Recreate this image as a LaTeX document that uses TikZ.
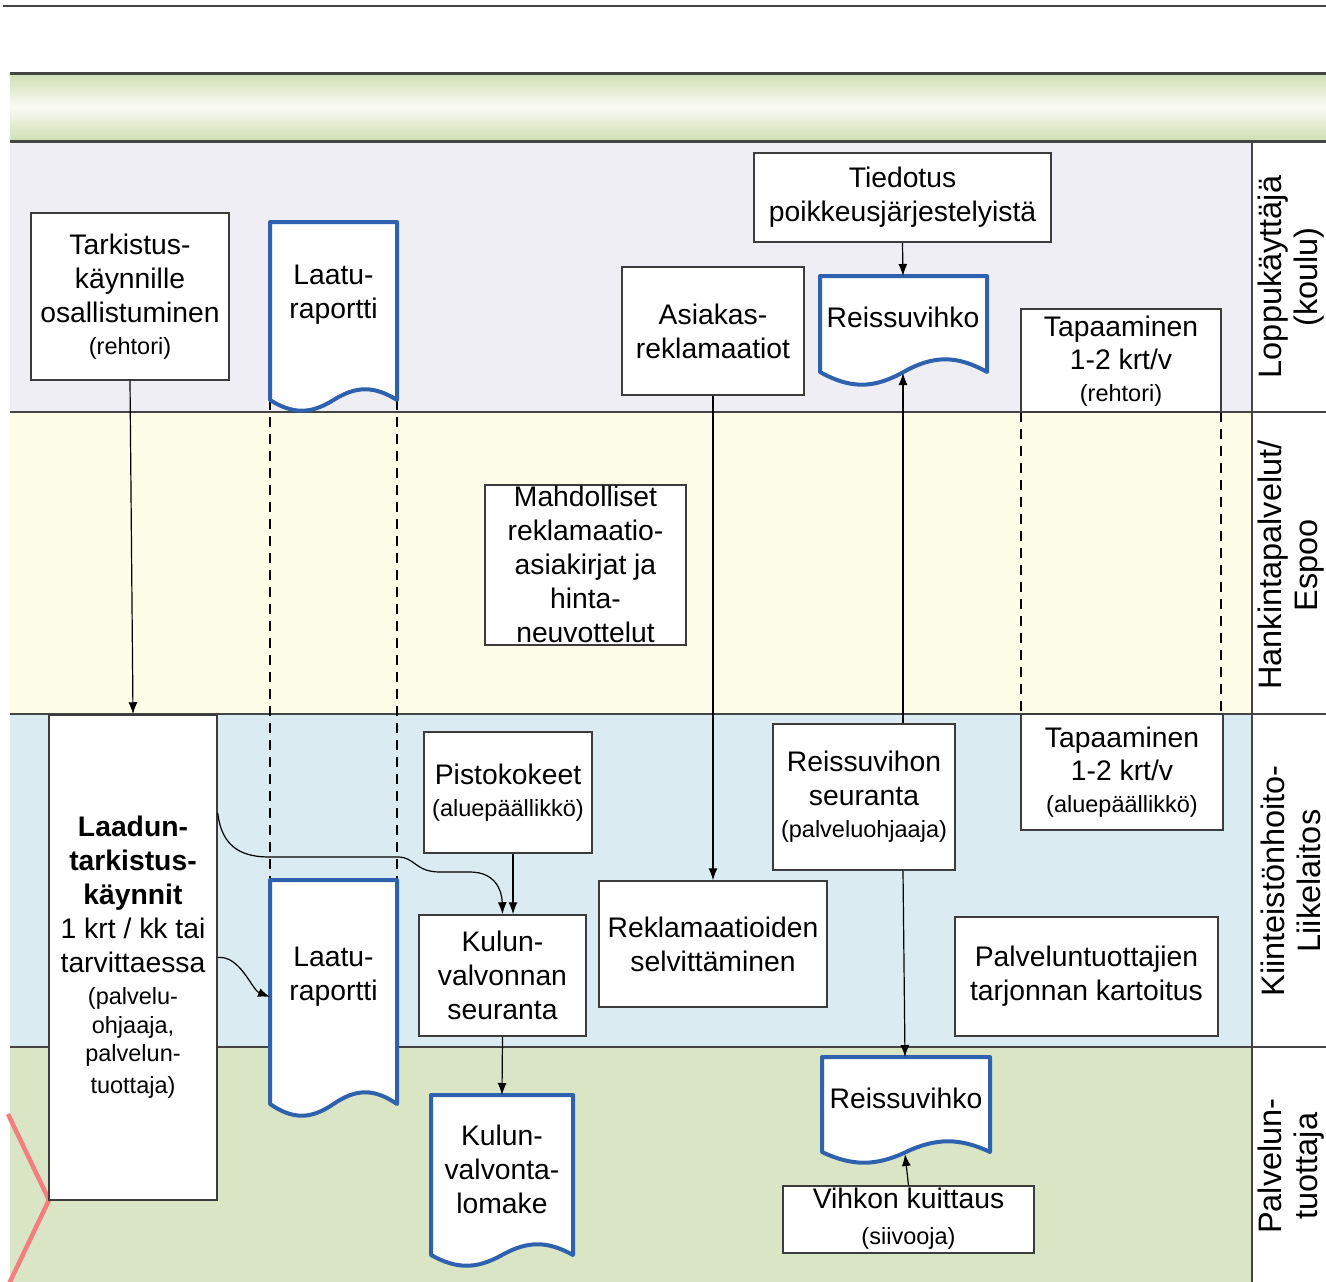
\documentclass[tikz,border=0pt]{standalone}
\usepackage{fontspec}
\setmainfont{Liberation Sans}
\usetikzlibrary{arrows.meta,calc}
\definecolor{laneA}{HTML}{EFEEF4}
\definecolor{laneB}{HTML}{FDFDE8}
\definecolor{laneC}{HTML}{DAECF2}
\definecolor{laneD}{HTML}{DAE5C6}
\definecolor{hdrG}{HTML}{D0DEB2}
\definecolor{hdrW}{HTML}{F9FBF4}
\definecolor{docblue}{HTML}{2E62AE}
\definecolor{boxc}{HTML}{3C3C3C}
\definecolor{lanec}{HTML}{444444}
\definecolor{chev}{HTML}{F47E7E}
\newcommand\mtext{\fontsize{28.3}{34}\selectfont}
\newcommand\stext{\fontsize{23.5}{30}\selectfont}
\newcommand\ltext{\fontsize{32.5}{36}\selectfont}
\newcommand\docshape[5]{%
  \pgfmathsetmacro\dwA{(#2-#1)}%
  \filldraw[docl] (#1,#3) -- (#2,#3) -- (#2,#4)
    .. controls ({#2-0.18*\dwA},{#4-1.3*#5}) and ({#2-0.32*\dwA},{#4-1.3*#5}) .. ({#1+0.5*\dwA},#4)
    .. controls ({#1+0.32*\dwA},{#4+1.3*#5}) and ({#1+0.18*\dwA},{#4+1.3*#5}) .. (#1,#4) -- cycle;}
\tikzset{
  box/.style={draw=boxc, fill=white, line width=1.5pt, align=center, inner sep=1pt, font=\mtext},
  arr/.style={draw=black, line width=1.2pt, -{Latex[length=12pt,width=9pt]}},
  docl/.style={draw=docblue, fill=white, line width=4pt, line join=round},
  dashl/.style={draw=black, line width=1.3pt, dash pattern=on 10pt off 7pt},
  lanel/.style={draw=lanec, line width=2pt},
  lbl/.style={rotate=90, align=center, font=\ltext, inner sep=0pt},
  txt/.style={align=center, inner sep=0pt, font=\mtext}
}
\begin{document}
\begin{tikzpicture}[x=1pt,y=-1pt]
\useasboundingbox (0,0) rectangle (1326,1282);
\fill[white] (0,0) rectangle (1326,1282);
% top rule
\draw[draw=lanec, line width=2.5pt] (3,6) -- (1326,6);
% lanes
\fill[laneA] (10,141) rectangle (1252,412);
\fill[laneB] (10,412) rectangle (1252,714);
\fill[laneC] (10,714) rectangle (1252,1047);
\fill[laneD] (10,1047) rectangle (1252,1282);
\fill[white] (1252,141) rectangle (1326,1282);
% header band
\shade[top color=hdrG, bottom color=hdrG, middle color=hdrW] (10,73) rectangle (1326,141);
\draw[draw=lanec, line width=3pt] (10,73) -- (1326,73);
\draw[draw=lanec, line width=3pt] (10,141) -- (1326,141);
% lane separators
\draw[lanel] (10,412) -- (1326,412);
\draw[lanel] (10,714) -- (1326,714);
\draw[lanel] (10,1047) -- (1326,1047);
\draw[lanel] (1252,141) -- (1252,1282);
% lane labels
\node[lbl] (l1) at (1291,277) {Loppukäyttäjä\\(koulu)};
\node[lbl] (l2) at (1291,565) {Hankintapalvelut/\\Espoo};
\node[lbl] (l3) at (1291,881) {Kiinteistönhoito-\\Liikelaitos};
\node[lbl] (l4) at (1291,1166) {Palvelun-\\tuottaja};
% chevron
\draw[draw=chev, line width=4.5pt] (8,1114) -- (49,1200) -- (8,1286);
% dashed links
\draw[dashl] (270,400) -- (270,880);
\draw[dashl] (397,400) -- (397,880);
\draw[dashl] (1021,412) -- (1021,714);
\draw[dashl] (1221,412) -- (1221,714);
% boxes
\node[box, minimum width=198, minimum height=167] (tark) at (130,296.5) {Tarkistus-\\käynnille\\osallistuminen\\[-2pt]{\stext (rehtori)}};
\node[box, minimum width=182, minimum height=128] (asi) at (713,331) {Asiakas-\\reklamaatiot};
\node[box, minimum width=297, minimum height=89] (tied) at (902.5,197.5) {Tiedotus\\poikkeusjärjestelyistä};
\node[box, minimum width=200, minimum height=103, inner sep=0pt] (tap1) at (1121,360.5) {};
\node[txt] (tap1t) at (1121,361) {Tapaaminen\\[-1pt]1-2 krt/v\\[-2pt]{\stext (rehtori)}};
\node[box, minimum width=201, minimum height=160] (mahd) at (585.5,565) {};
\node[txt] (mahdt) at (585.5,564) {Mahdolliset\\reklamaatio-\\asiakirjat ja\\hinta-\\neuvottelut};
\node[box, minimum width=168, minimum height=485] (laadun) at (133,957.5) {\textbf{Laadun-}\\\textbf{tarkistus-}\\\textbf{käynnit}\\1 krt / kk tai\\tarvittaessa\\[-2pt]{\stext (palvelu-}\\[-5pt]{\stext ohjaaja,}\\[-6pt]{\stext palvelun-}\\[-2pt]{\stext tuottaja)}};
\node[box, minimum width=168, minimum height=121] (pisto) at (508,792.5) {Pistokokeet\\[-2pt]{\stext (aluepäällikkö)}};
\node[box, minimum width=167, minimum height=121] (kulun) at (502.5,975.5) {Kulun-\\valvonnan\\seuranta};
\node[box, minimum width=182, minimum height=146] (rseur) at (864,797) {Reissuvihon\\seuranta\\[-2pt]{\stext (palveluohjaaja)}};
\node[box, minimum width=202, minimum height=116] (tap2) at (1122,772) {Tapaaminen\\[-1pt]1-2 krt/v\\[-2pt]{\stext (aluepäällikkö)}};
\node[box, minimum width=228, minimum height=126] (rek) at (713,944) {Reklamaatioiden\\selvittäminen};
\node[box, minimum width=263, minimum height=119] (palv) at (1086.5,976.5) {Palveluntuottajien\\tarjonnan kartoitus};
\node[box, minimum width=251, minimum height=67, inner sep=0pt] (vihko) at (908.5,1219.5) {};
\node[txt] (vihkot) at (908.5,1219) {Vihkon kuittaus\\[2pt]{\stext (siivooja)}};
% documents
\docshape{270}{397}{222}{400}{11}
\node[txt] (lr1) at (333.5,295) {Laatu-\\raportti};
\docshape{270}{397}{880}{1104}{12}
\node[txt] (lr2) at (333.5,977) {Laatu-\\raportti};
\docshape{820}{987}{276}{372}{13}
\node[txt] (rv1) at (903,317) {Reissuvihko};
\docshape{822}{990}{1057}{1152}{11}
\node[txt] (rv2) at (906,1098) {Reissuvihko};
\docshape{431}{573}{1095}{1255}{11}
\node[txt] (kvl) at (502,1169) {Kulun-\\valvonta-\\lomake};
% anchor points on documents
\coordinate (rv1top) at (903,276);
\coordinate (rv1bot) at (903,373);
\coordinate (rv2top) at (905,1057);
\coordinate (rv2bot) at (905,1154);
\coordinate (kvltop) at (502,1095);
\coordinate (lr2w) at (270,997);
\coordinate (pistoOut) at ([xshift=5pt]pisto.south);
% connectors
\draw[arr] (tark.south) -- (laadun.north);
\draw[arr] (asi.south) -- (rek.north);
\draw[arr] (tied.south) -- (rv1top);
\draw[arr] (rseur.north -| rv1bot) -- (rv1bot);
\draw[arr] (rseur.south -| rv1bot) -- (rv2top);
\draw[arr] (vihko.north) -- (rv2bot);
\draw[arr] (pistoOut) -- (pistoOut |- kulun.north);
\draw[arr] ([yshift=144.5pt]laadun.east) .. controls (222,850) and (245,857) .. (270,857) -- (398,857) .. controls (415,857) and (415,872) .. (440,872) -- (470,872) .. controls (495,872) and (502,890) .. (kulun.north);
\draw[arr] (laadun.east) .. controls (240,955) and (252,990) .. (lr2w);
\draw[arr] (kulun.south) -- (kvltop);
\end{tikzpicture}
\end{document}
